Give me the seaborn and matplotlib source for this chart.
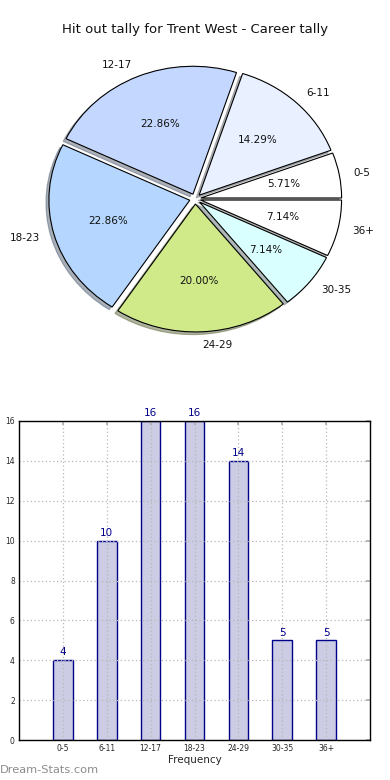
#!/usr/bin/env python3

import numpy as np
import pandas as pd
import seaborn as sns
import matplotlib

matplotlib.use("Agg")
import matplotlib.pyplot as plt

# hit out tally per range
ranges = ["0-5", "6-11", "12-17", "18-23", "24-29", "30-35", "36+"]
tally = [4, 10, 16, 16, 14, 5, 5]

PIE_COLORS = ["#ffffff", "#e9f0ff", "#c4d8ff", "#b5d6ff", "#d0ea8a", "#daffff", "#ffffff"]
BAR_FACE = "#ccccE4"
BAR_EDGE = "#00008b"


def main():
    sns.set_theme(style="white")
    plt.rcParams["font.family"] = ["DejaVu Sans"]

    fig = plt.figure(figsize=(3.9, 7.8), dpi=100)

    # --- pie on top (not forced circular, like the old render) ---
    ax_pie = fig.add_axes([0.049, 0.540, 0.903, 0.410])
    wedges, texts, autotexts = ax_pie.pie(
        tally,
        labels=ranges,
        colors=PIE_COLORS,
        explode=[0.04] * len(tally),
        autopct="%1.2f%%",
        startangle=0,
        shadow={"ox": -0.015, "oy": -0.015, "shade": 0.55},
        wedgeprops={"edgecolor": "black", "linewidth": 0.8},
        textprops={"fontsize": 7.5, "color": "#111111"},
    )
    ax_pie.set_aspect("auto")
    ax_pie.set_xlim(-1.25, 1.25)
    ax_pie.set_ylim(-1.25, 1.25)

    fig.text(0.5, 1 - 30 / 780, "Hit out tally for Trent West - Career tally",
             ha="center", va="center", fontsize=9.5, color="#111111")

    # --- bar chart below ---
    ax = fig.add_axes([19 / 390, 40 / 780, 351 / 390, 319 / 780])
    df = pd.DataFrame({"range": ranges, "tally": tally})
    sns.barplot(
        data=df,
        x="range",
        y="tally",
        ax=ax,
        color=BAR_FACE,
        saturation=1,
        width=0.45,
        edgecolor=BAR_EDGE,
        linewidth=1,
        zorder=1,
    )
    ax.bar_label(ax.containers[0], color=BAR_EDGE, fontsize=7.5, padding=2)

    ax.set_xlim(-1, 7)
    ax.set_ylim(0, 16)
    ax.set_yticks(np.arange(0, 17, 2))
    ax.grid(True, linestyle=(0, (1, 2)), color="#b8b8b8", linewidth=0.9, zorder=3)
    ax.set_axisbelow(False)
    for sp in ax.spines.values():
        sp.set_visible(True)
        sp.set_color("black")
        sp.set_linewidth(1)
        sp.set_zorder(5)
    ax.tick_params(axis="both", labelsize=5.5, length=3, direction="in",
                   color="#b0b0b0", top=True, right=True, pad=3)
    ax.set_xlabel("Frequency", fontsize=7.5, labelpad=1)
    ax.set_ylabel("Stat Hit Out Tally", fontsize=7.5)
    ax.yaxis.set_label_coords(-0.062, 0.5)

    fig.text(0.0, 1 - 770 / 780, "Dream-Stats.com", ha="left", va="center",
             fontsize=8.2, color="#8c8c8c")

    fig.savefig("out.png", dpi=100)


if __name__ == "__main__":
    main()
